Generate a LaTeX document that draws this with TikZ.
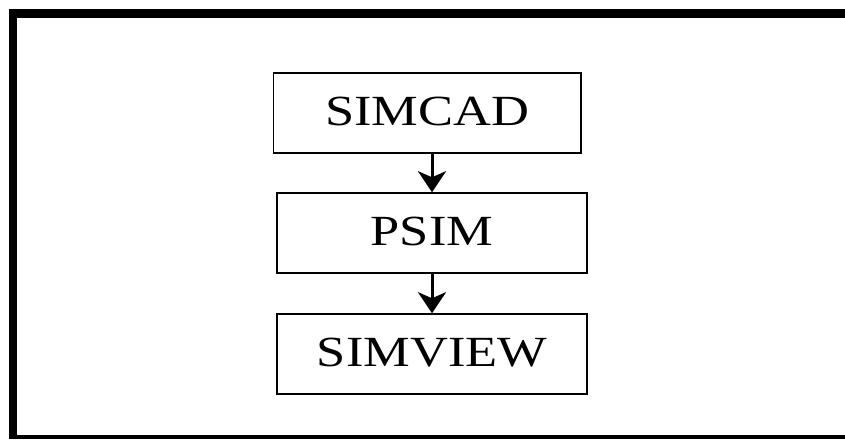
\documentclass[tikz,border=0pt]{standalone}
\usepackage{fontspec}
\usepackage{graphicx}
\setmainfont{Liberation Serif}
\usetikzlibrary{arrows.meta}
\tikzset{
  stagebox/.style={draw=black, line width=1.5pt, fill=white, minimum height=80pt, inner sep=0pt, font=\fontsize{43}{43}\selectfont},
  flowarrow/.style={line width=3pt, -{Stealth[length=21pt, width=28pt, inset=6pt]}},
  framebar/.style={fill=black, draw=none}
}
\newcommand{\wide}[1]{\raisebox{4pt}{\scalebox{1.22}[1]{#1}}}
\begin{document}
\begin{tikzpicture}[x=1pt, y=1pt]
\useasboundingbox (0,0) rectangle (845,-439);
\fill[white] (0,0) rectangle (845,-439);
% outer frame
\fill[framebar] (9,-9) rectangle (845,-17.5);
\fill[framebar] (9,-9) rectangle (16.5,-439);
\fill[framebar] (9,-435) rectangle (845,-439);
% boxes
\node[stagebox, minimum width=307.5pt] (a) at (427.25,-113) {\wide{SIMCAD}};
\node[stagebox, minimum width=310pt] (b) at (432,-233) {\wide{PSIM}};
\node[stagebox, minimum width=310pt] (c) at (432,-354) {\wide{SIMVIEW}};
% arrows
\draw[flowarrow] (b.north |- a.south) -- (b.north);
\draw[flowarrow] (b.south) -- (c.north);
\end{tikzpicture}
\end{document}
